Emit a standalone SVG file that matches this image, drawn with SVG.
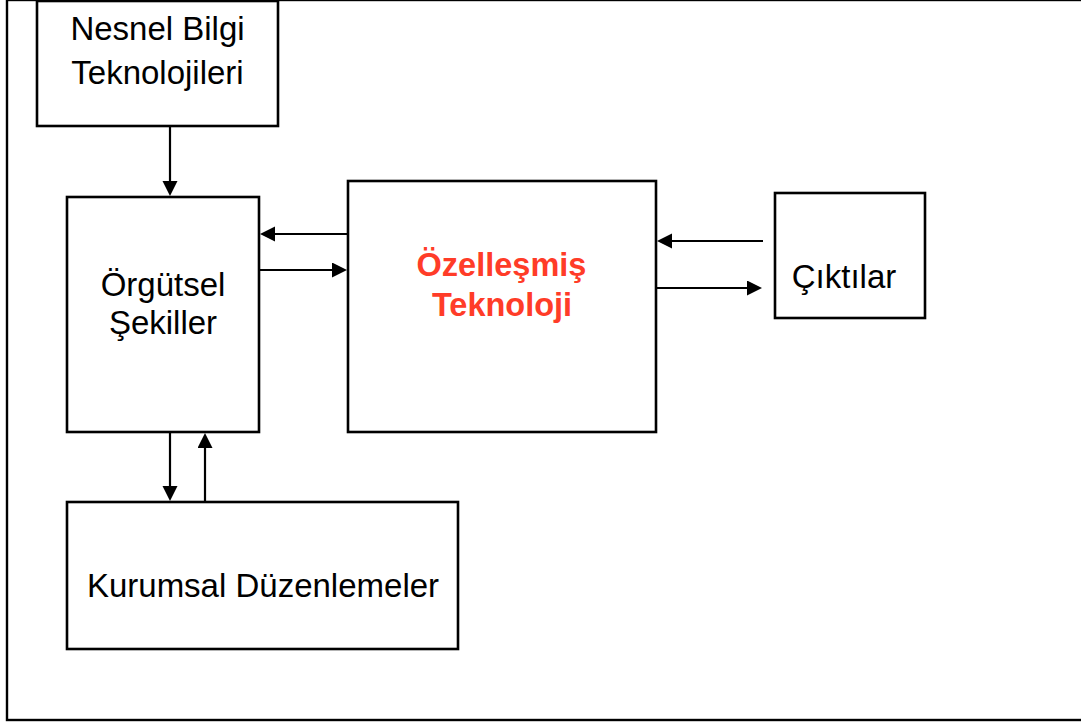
<svg xmlns="http://www.w3.org/2000/svg" width="1081" height="722" viewBox="0 0 1081 722">
<style>
.box{fill:#fff;stroke:#000;stroke-width:2.6}
.frame{fill:none;stroke:#000;stroke-width:2.4}
.lbl{font-family:"Liberation Sans",Arial,sans-serif;font-size:33px;fill:#000;text-anchor:middle}
.red{font-family:"Liberation Sans",Arial,sans-serif;font-size:32.5px;font-weight:bold;fill:#ff3c28;text-anchor:middle}
.con{stroke:#000;stroke-width:2.2;fill:none;marker-end:url(#ah)}
</style>
<defs>
<marker id="ah" markerUnits="userSpaceOnUse" markerWidth="16" markerHeight="16" refX="8" refY="7.5" orient="auto">
<path d="M0,0 L15,7.5 L0,15 Z" fill="#000"/>
</marker>
</defs>
<rect class="frame" x="7" y="0" width="1100" height="720"/>
<g id="nesnel">
<rect class="box" x="37" y="1" width="241" height="125"/>
<text class="lbl" x="157.5" y="40">Nesnel Bilgi</text>
<text class="lbl" x="157.5" y="84">Teknolojileri</text>
</g>
<g id="orgutsel">
<rect class="box" x="67" y="197" width="192" height="235"/>
<text class="lbl" x="163" y="296">Örgütsel</text>
<text class="lbl" x="163" y="334">Şekiller</text>
</g>
<g id="ozellesmis">
<rect class="box" x="348" y="181" width="308" height="251"/>
<text class="red" x="501.5" y="276">Özelleşmiş</text>
<text class="red" x="502" y="316">Teknoloji</text>
</g>
<g id="ciktilar">
<rect class="box" x="775" y="193" width="150" height="125"/>
<text class="lbl" x="844" y="288">Çıktılar</text>
</g>
<g id="kurumsal">
<rect class="box" x="67" y="502" width="391" height="147"/>
<text class="lbl" x="263" y="597">Kurumsal Düzenlemeler</text>
</g>
<g id="connectors">
<line class="con" x1="170" y1="126" x2="170" y2="189"/>
<line class="con" x1="348" y1="234" x2="267" y2="234"/>
<line class="con" x1="259" y1="270" x2="340" y2="270"/>
<line class="con" x1="763" y1="241" x2="664" y2="241"/>
<line class="con" x1="656" y1="288" x2="755" y2="288"/>
<line class="con" x1="170" y1="432" x2="170" y2="494"/>
<line class="con" x1="205" y1="502" x2="205" y2="440"/>
</g>
</svg>
